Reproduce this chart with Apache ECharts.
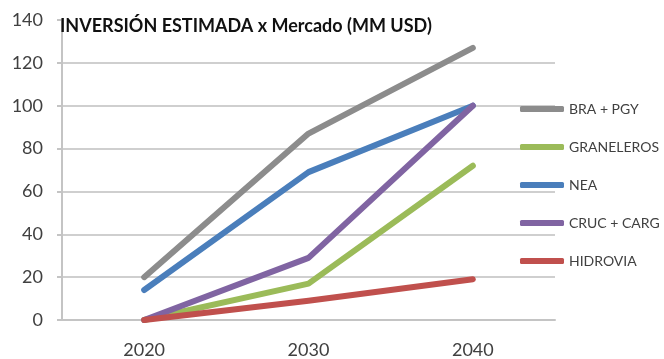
<!DOCTYPE html>
<html>
<head>
<meta charset="utf-8">
<script src="https://cdn.jsdelivr.net/npm/echarts@6/dist/echarts.min.js"></script>
<style>
  html, body { margin: 0; padding: 0; background: #ffffff; }
  #chart { width: 664px; height: 359px; }
</style>
</head>
<body>
<div id="chart"></div>
<script>
// Estimated investment per market segment, millions of USD
const years = ['2020', '2030', '2040'];
const braPgy = [20, 87, 127];
const graneleros = [0, 17, 72];
const nea = [14, 69, 100];
const crucCarg = [0, 29, 100];
const hidrovia = [0, 9, 19];

const seriesNames = ['BRA + PGY', 'GRANELEROS', 'NEA', 'CRUC + CARG', 'HIDROVIA'];
const seriesValues = [braPgy, graneleros, nea, crucCarg, hidrovia];
const seriesColors = ['#8c8c8c', '#9bbb59', '#4a7ebb', '#8064a2', '#c0504d'];

const textColor = '#404040';
const fontFamily = 'Lato, "Open Sans", sans-serif';

const chart = echarts.init(document.getElementById('chart'));

// grid lines at 0..120 visible, none at the 140 top edge
const gridColors = ['#cfcfcf', '#cfcfcf', '#cfcfcf', '#cfcfcf', '#cfcfcf', '#cfcfcf', '#cfcfcf', 'rgba(0,0,0,0)'];

chart.setOption({
  animation: false,
  backgroundColor: '#ffffff',
  title: {
    text: 'INVERSIÓN ESTIMADA x Mercado (MM USD)',
    left: 55,
    top: 12,
    textStyle: {
      color: '#111111',
      fontFamily: fontFamily,
      fontWeight: 'bold',
      fontSize: 18
    }
  },
  grid: { left: 62, right: 109, top: 20, bottom: 37 },
  legend: {
    orient: 'vertical',
    left: 515,
    top: 97,
    itemGap: 24,
    itemWidth: 44,
    itemHeight: 6,
    icon: 'roundRect',
    data: seriesNames,
    textStyle: { color: textColor, fontFamily: fontFamily, fontSize: 14 }
  },
  xAxis: {
    type: 'category',
    data: years,
    boundaryGap: true,
    axisLine: { lineStyle: { color: '#c4c4c4', width: 2 } },
    axisTick: { length: 7, lineStyle: { color: '#c4c4c4', width: 2 } },
    axisLabel: { color: textColor, fontFamily: fontFamily, fontSize: 18, margin: 21 }
  },
  yAxis: {
    type: 'value',
    min: 0,
    max: 140,
    interval: 20,
    axisLine: { show: true, lineStyle: { color: '#c4c4c4', width: 2 } },
    axisTick: { show: true, length: 5, lineStyle: { color: '#c4c4c4', width: 2 } },
    axisLabel: { color: textColor, fontFamily: fontFamily, fontSize: 18, margin: 19 },
    splitLine: { show: true, lineStyle: { color: gridColors, width: 2 } }
  },
  series: seriesNames.map((name, i) => ({
    name: name,
    type: 'line',
    data: seriesValues[i],
    color: seriesColors[i],
    symbol: 'none',
    lineStyle: { width: 6, color: seriesColors[i], cap: 'round', join: 'round' }
  }))
});
</script>
</body>
</html>
